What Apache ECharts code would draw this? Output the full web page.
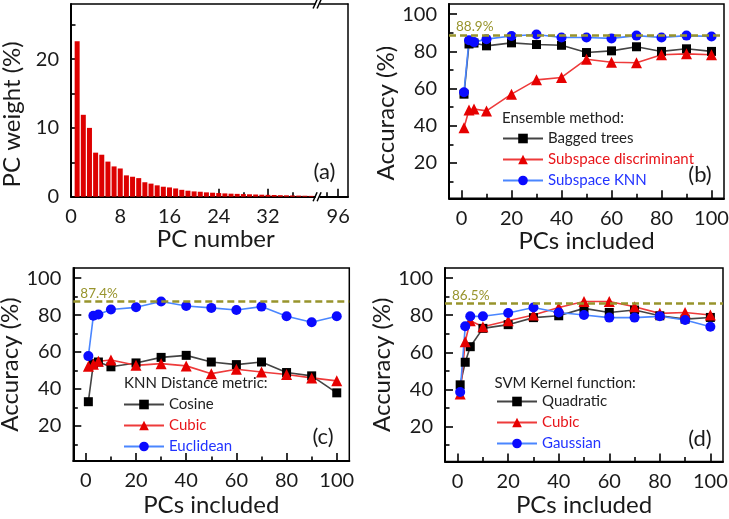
<!DOCTYPE html>
<html><head><meta charset="utf-8">
<script src="https://cdn.jsdelivr.net/npm/echarts@6/dist/echarts.min.js"></script>
<style>html,body{margin:0;padding:0;background:#fff}#c{width:729px;height:519px}</style>
</head><body><div id="c"></div>
<script>
// ---------- data ----------
const pcNumber = [1,2,3,4,5,6,7,8,9,10,11,12,13,14,15,16,17,18,19,20,21,22,23,24,25,26,27,28,29,30,31,32,33,34,35,36,37,38,39];
const pcWeight = [22.6,11.9,10.0,6.4,6.1,5.1,4.4,4.1,3.1,2.9,2.7,2.1,1.9,1.65,1.45,1.35,1.2,1.0,0.87,0.77,0.72,0.63,0.58,0.53,0.48,0.44,0.41,0.38,0.35,0.32,0.29,0.27,0.25,0.22,0.2,0.18,0.16,0.14,0.12];
const aXLabels = [0,8,16,24,32];
const aXMinor = [4,12,20,28,36];
const aBreakLabels = [96];
const aBreakMinor = [92];
const aYLabels = [0,10,20];
const aYMinor = [5,15,25];

const pcsIncluded = [1,3,5,10,20,30,40,50,60,70,80,90,100];
const bBagged = [57,84,84.5,83,84.6,83.7,83.3,79.4,80.3,82.5,80,81.4,80];
const bDisc   = [39,48.5,49,48,57,64.7,66,75.8,74.2,73.9,78.2,78.7,78.2];
const bKnn    = [58,86,85,86.6,88.3,89.1,87.5,87.5,87,88.5,87.5,88.5,88];
const bBest = 88.9;
const cCosine = [33.1,53.7,54.6,52,54.1,57.1,58.2,54.6,53.2,54.6,48.9,47.1,37.9];
const cCubic  = [52.3,53.4,55,55.7,52.8,53.7,52.5,48.3,50.7,49.2,47.8,46,44.4];
const cEuclid = [57.8,79.6,80.3,83,84.2,87.4,84.9,83.9,82.8,84.6,79.4,76.1,79.4];
const cBest = 87.4;
const dQuad  = [42.4,54.6,63,72.9,74.9,78.7,79.7,83.7,81.5,82.8,79.7,77.9,78.8];
const dCubic = [37.4,65.7,77,73.8,77,80.1,84.2,87.4,87.4,84.6,81,81.5,80.1];
const dGauss = [38.5,74,79.4,79.4,81.2,84.2,81.5,80.1,78.7,78.7,79.4,77.4,73.8];
const dBest = 86.5;
const accXLabels = [0,20,40,60,80,100];
const accXMinor = [10,30,50,70,90];
const accYLabels = [20,40,60,80,100];
const accYMinor = [10,30,50,70,90];

// ---------- style ----------
const FONT = 'Lato';
const TXT = '#1a1a1a';
const BLK = '#000';
const OLIVE = '#98942c';

const chart = echarts.init(document.getElementById('c'));

const grids = [
  {left:71, top:4, width:245.6, height:192.7},
  {left:316.6, top:4, width:31.4, height:192.7},
  {left:449, top:4, width:275, height:194.3, show:true, borderColor:BLK, borderWidth:1.5},
  {left:73.3, top:268, width:276, height:193, show:true, borderColor:BLK, borderWidth:1.5},
  {left:445, top:268, width:278, height:193.5, show:true, borderColor:BLK, borderWidth:1.5}
].map(g => Object.assign({containLabel:false, outerBoundsMode:'none', backgroundColor:'transparent'}, g));

function axisMain(g, pos, min, max, labels, extra) {
  return Object.assign({
    gridIndex:g, type:'value', position:pos, min:min, max:max,
    axisLine:{show:true, onZero:false, lineStyle:{color:BLK, width:2}},
    axisTick:{show:true, inside:true, length:8, customValues:labels, lineStyle:{color:BLK, width:1.6}},
    axisLabel:{show:true, customValues:labels, margin:(pos==='left'?12:10), fontSize:20, fontFamily:FONT, color:TXT},
    splitLine:{show:false}, minorTick:{show:false}, minorSplitLine:{show:false}
  }, extra||{});
}
function axisMinor(g, pos, min, max, ticks) {
  return {
    gridIndex:g, type:'value', position:pos, min:min, max:max,
    axisLine:{show:false, onZero:false},
    axisTick:{show:true, inside:true, length:4.5, customValues:ticks, lineStyle:{color:BLK, width:1.6}},
    axisLabel:{show:false}, splitLine:{show:false}
  };
}
function axisFrame(g, pos, min, max) {
  return {
    gridIndex:g, type:'value', position:pos, min:min, max:max,
    axisLine:{show:true, onZero:false, lineStyle:{color:BLK, width:1.5}},
    axisTick:{show:false}, axisLabel:{show:false}, splitLine:{show:false}
  };
}
const xName = (name, gap, pad) => ({name:name, nameLocation:'middle', nameGap:gap,
  nameTextStyle:{fontSize:24, fontFamily:FONT, color:TXT, padding:pad||0}});
const yName = (name, gap, pad) => ({name:name, nameLocation:'middle', nameGap:gap,
  nameTextStyle:{fontSize:24, fontFamily:FONT, color:TXT, padding:pad||0}});

const XMIN = -5, XMAX = 105, YMIN = 1, YMAX = 105.5;

const xAxis = [
  axisMain(0,'bottom',0,39.9,aXLabels, xName('PC number',31,[0,0,0,44])),
  axisMinor(0,'bottom',0,39.9,aXMinor),
  axisFrame(0,'top',0,39.9),
  axisMain(1,'bottom',88.3,99.5,aBreakLabels),
  axisMinor(1,'bottom',88.3,99.5,aBreakMinor),
  axisFrame(1,'top',88.3,99.5),
  axisMain(2,'bottom',XMIN,XMAX,accXLabels, xName('PCs included',30)),
  axisMinor(2,'bottom',XMIN,XMAX,accXMinor),
  axisMain(3,'bottom',XMIN,XMAX,accXLabels, xName('PCs included',32)),
  axisMinor(3,'bottom',XMIN,XMAX,accXMinor),
  axisMain(4,'bottom',XMIN,XMAX,accXLabels, xName('PCs included',32)),
  axisMinor(4,'bottom',XMIN,XMAX,accXMinor)
];
const yAxis = [
  axisMain(0,'left',0,28,aYLabels, yName('PC weight (%)',47,[0,28,0,0])),
  axisMinor(0,'left',0,28,aYMinor),
  axisFrame(1,'right',0,28),
  axisMain(2,'left',YMIN,YMAX,accYLabels, yName('Accuracy (%)',48,[0,24,0,0])),
  axisMinor(2,'left',YMIN,YMAX,accYMinor),
  axisMain(3,'left',YMIN,YMAX,accYLabels, yName('Accuracy (%)',46)),
  axisMinor(3,'left',YMIN,YMAX,accYMinor),
  axisMain(4,'left',YMIN,YMAX,accYLabels, yName('Accuracy (%)',43)),
  axisMinor(4,'left',YMIN,YMAX,accYMinor)
];

const STY = {
  black:{line:'#444', mark:'#000', symbol:'rect', size:9},
  red:{line:'#ee3b3b', mark:'#e60000', symbol:'triangle', size:11},
  blue:{line:'#4a86ff', mark:'#0a0aff', symbol:'circle', size:10}
};
function lineSeries(name, vals, xi, yi, sty, best) {
  const s = {
    type:'line', name:name, xAxisIndex:xi, yAxisIndex:yi,
    data: pcsIncluded.map((x,i)=>[x, vals[i]]),
    symbol:sty.symbol, symbolSize:sty.size, showAllSymbol:true,
    lineStyle:{color:sty.line, width:1.6},
    itemStyle:{color:sty.mark},
    emphasis:{disabled:true}, animation:false
  };
  if (best !== undefined) {
    s.markLine = {
      silent:true, symbol:'none', animation:false,
      lineStyle:{color:OLIVE, width:2.5, type:[7,4]},
      label:{show:true, position:'insideStartTop', formatter: best + '%', color:OLIVE,
             fontSize:13.5, fontFamily:FONT, distance:[7,1]},
      data:[{yAxis:best}]
    };
  }
  return s;
}

const series = [
  {type:'bar', xAxisIndex:0, yAxisIndex:0, data:pcNumber.map((x,i)=>[x,pcWeight[i]]),
   barWidth:5, itemStyle:{color:'#dd0000'}, animation:false, emphasis:{disabled:true}},
  lineSeries('Bagged trees', bBagged, 6, 3, STY.black),
  lineSeries('Subspace discriminant', bDisc, 6, 3, STY.red),
  lineSeries('Subspace KNN', bKnn, 6, 3, STY.blue, bBest),
  lineSeries('Cosine', cCosine, 8, 5, STY.black),
  lineSeries('Cubic', cCubic, 8, 5, STY.red),
  lineSeries('Euclidean', cEuclid, 8, 5, STY.blue, cBest),
  lineSeries('Quadratic', dQuad, 10, 7, STY.black),
  lineSeries('Cubic', dCubic, 10, 7, STY.red),
  lineSeries('Gaussian', dGauss, 10, 7, STY.blue, dBest)
];

function legend(left, top, items) {
  return {
    orient:'vertical', left:left, top:top, padding:0, itemGap:0,
    itemWidth:40, itemHeight:12, selectedMode:false,
    textStyle:{fontSize:15, lineHeight:21, fontFamily:FONT, color:'#222'},
    data: items.map(it => ({name:it[0], textStyle:{color:it[1]}}))
  };
}
const legends = [
  legend(502, 128, [['Bagged trees','#222'],['Subspace discriminant','#e8161b'],['Subspace KNN','#2233ff']]),
  legend(123, 394, [['Cosine','#222'],['Cubic','#e8161b'],['Euclidean','#2233ff']]),
  legend(496, 391, [['Quadratic','#222'],['Cubic','#e8161b'],['Gaussian','#2233ff']])
];

function txt(x, y, s, size, color, align) {
  return {type:'text', x:x, y:y, silent:true, style:{text:s, fontSize:size, fontFamily:FONT, fill:color||TXT,
    align:align||'left', verticalAlign:'middle'}};
}
const JX = 316.6;
function slashes(y) {
  return [
    {type:'rect', shape:{x:JX-1, y:y-2, width:4, height:4}, style:{fill:'#fff'}, silent:true, z:100},
    {type:'line', shape:{x1:JX-3.5, y1:y+4.5, x2:JX+0.5, y2:y-4.5}, style:{stroke:BLK, lineWidth:1.5}, silent:true, z:101},
    {type:'line', shape:{x1:JX+0.5, y1:y+4.5, x2:JX+4.5, y2:y-4.5}, style:{stroke:BLK, lineWidth:1.5}, silent:true, z:101}
  ];
}
const graphics = [
  txt(324.5,172,'(a)',22,TXT,'center'),
  txt(700,175,'(b)',22,TXT,'center'),
  txt(323,437,'(c)',22,TXT,'center'),
  txt(700,439,'(d)',22,TXT,'center'),
  txt(502,118.5,'Ensemble method:',15,'#222'),
  txt(124,383.5,'KNN Distance metric:',15,'#222'),
  txt(494.5,383.5,'SVM Kernel function:',15,'#222')
].concat(slashes(196.7), slashes(4));

chart.setOption({
  animation:false,
  backgroundColor:'#fff',
  textStyle:{fontFamily:FONT},
  grid:grids, xAxis:xAxis, yAxis:yAxis, series:series, legend:legends,
  graphic:graphics
});
</script></body></html>
